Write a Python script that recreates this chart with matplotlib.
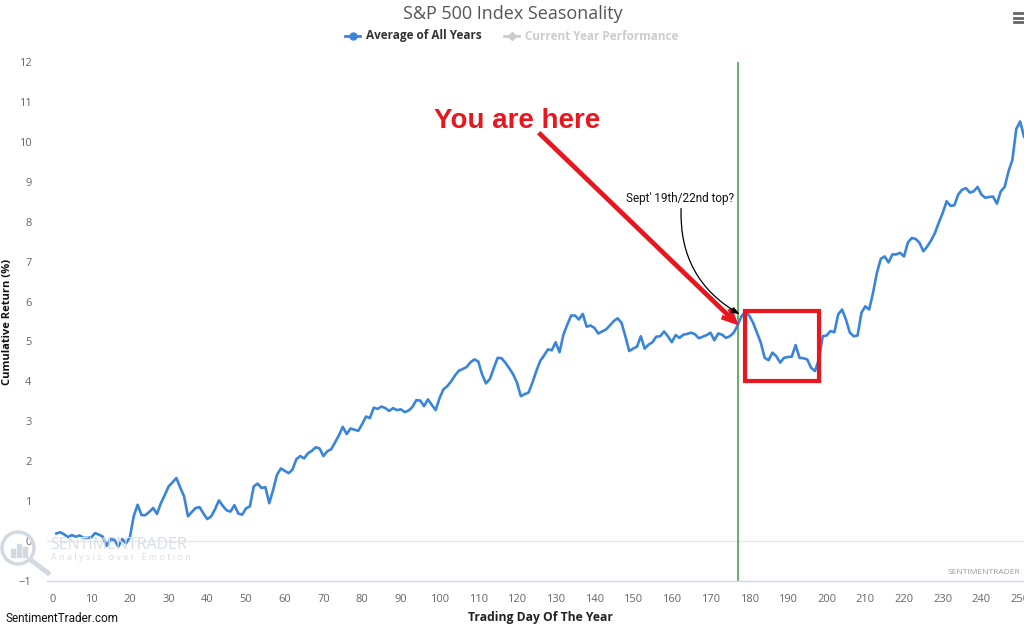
import numpy as np
import matplotlib
matplotlib.use('Agg')
import matplotlib.pyplot as plt
from matplotlib.lines import Line2D
from matplotlib.patches import Rectangle, Ellipse

# Average cumulative return per trading day
days = list(range(1, 252))
avg_return = [
    0.19, 0.22, 0.17, 0.10, 0.15, 0.11, 0.14, 0.08, 0.08, 0.09,
    0.20, 0.16, 0.11, -0.12, 0.05, 0.03, -0.14, 0.05, -0.06, 0.10,
    0.63, 0.91, 0.65, 0.65, 0.73, 0.83, 0.68, 0.95, 1.15, 1.37,
    1.47, 1.58, 1.34, 1.12, 0.62, 0.73, 0.83, 0.85, 0.69, 0.55,
    0.62, 0.80, 1.02, 0.88, 0.77, 0.74, 0.90, 0.69, 0.66, 0.82,
    0.87, 1.37, 1.44, 1.33, 1.35, 0.95, 1.28, 1.66, 1.82, 1.76,
    1.70, 1.79, 2.05, 2.13, 2.07, 2.20, 2.26, 2.35, 2.32, 2.13,
    2.25, 2.30, 2.47, 2.65, 2.86, 2.68, 2.82, 2.79, 2.76, 2.93,
    3.12, 3.08, 3.34, 3.31, 3.37, 3.33, 3.26, 3.33, 3.28, 3.30,
    3.23, 3.27, 3.36, 3.53, 3.52, 3.38, 3.55, 3.41, 3.28, 3.58,
    3.80, 3.88, 4.00, 4.15, 4.27, 4.31, 4.36, 4.48, 4.55, 4.50,
    4.17, 3.95, 4.06, 4.33, 4.59, 4.58, 4.47, 4.33, 4.18, 3.97,
    3.63, 3.68, 3.72, 3.97, 4.26, 4.51, 4.65, 4.80, 4.78, 4.98,
    4.73, 5.17, 5.42, 5.65, 5.65, 5.55, 5.69, 5.37, 5.40, 5.34,
    5.20, 5.25, 5.30, 5.40, 5.51, 5.58, 5.47, 5.13, 4.76, 4.82,
    4.87, 5.13, 4.82, 4.92, 4.98, 5.12, 5.13, 5.25, 5.13, 4.98,
    5.16, 5.09, 5.17, 5.19, 5.22, 5.18, 5.08, 5.12, 5.16, 5.22,
    5.03, 5.20, 5.17, 5.09, 5.13, 5.22, 5.40, 5.63, 5.75, 5.65,
    5.47, 5.22, 4.97, 4.59, 4.53, 4.72, 4.63, 4.47, 4.59, 4.61,
    4.62, 4.91, 4.59, 4.58, 4.55, 4.34, 4.26, 4.55, 5.13, 5.15,
    5.26, 5.23, 5.68, 5.80, 5.55, 5.22, 5.13, 5.15, 5.72, 5.88,
    5.80, 6.22, 6.72, 7.07, 7.13, 6.98, 7.18, 7.18, 7.22, 7.13,
    7.48, 7.59, 7.57, 7.47, 7.26, 7.38, 7.53, 7.72, 7.98, 8.22,
    8.51, 8.40, 8.41, 8.68, 8.80, 8.84, 8.73, 8.76, 8.87, 8.68,
    8.60, 8.62, 8.63, 8.45, 8.76, 8.87, 9.26, 9.55, 10.32, 10.51,
    10.13,
]
x_ticks = list(range(0, 251, 10))
y_ticks = list(range(-1, 13))
today = 177

BLUE = '#3a85d8'
RED = '#e8161e'
W, H = 1024, 626


def fx(px):
    return px / W


def fy(py):
    return 1 - py / H


fig = plt.figure(figsize=(10.24, 6.26), dpi=100)
ax = fig.add_axes([fx(46.7), fy(581), fx(1024 - 46.7), (581 - 62) / H])

ax.plot(days, avg_return, color=BLUE, lw=1.9, solid_joinstyle='round', zorder=3)
ax.axhline(0, color='#e6e6e6', lw=1, zorder=1)
ax.axvline(today, color='#3f9c3f', lw=1.1, zorder=2)

ax.set_xlim(-1.5, 251)
ax.set_ylim(-1, 12)
ax.set_xticks(x_ticks)
ax.set_yticks(y_ticks)
ax.tick_params(length=0, colors='#666666', labelsize=8)
ax.tick_params(axis='x', pad=9)
ax.tick_params(axis='y', pad=11)
for lab in ax.get_xticklabels() + ax.get_yticklabels():
    lab.set_fontfamily('Open Sans')
for s in ['top', 'right', 'left']:
    ax.spines[s].set_visible(False)
ax.spines['bottom'].set_color('#ccd6eb')
ax.spines['bottom'].set_linewidth(1)

# red box and arrows
ax.add_patch(Rectangle((178.8, 4.01), 198.1 - 178.8, 5.76 - 4.01, fill=False,
                       edgecolor=RED, lw=3, zorder=5, clip_on=False))
ax.annotate('', xy=(177.3, 5.4), xytext=(125.6, 10.23),
            arrowprops=dict(arrowstyle='->,head_length=0.9,head_width=0.42',
                            color=RED, lw=3.4, shrinkA=0, shrinkB=0,
                            joinstyle='miter', capstyle='butt'), zorder=6)
ax.text(120, 10.52, 'You are here', color=RED, fontsize=20, fontweight='bold',
        family='Liberation Sans', ha='center', va='center', zorder=6)
ax.text(162.1, 8.575, "Sept' 19th/22nd top?", color='#111111', fontsize=8.5,
        family='Roboto', ha='center', va='center', zorder=6)
ax.annotate('', xy=(177.6, 5.68), xytext=(162.4, 8.33),
            arrowprops=dict(arrowstyle='-|>,head_length=0.5,head_width=0.18',
                            color='black', lw=0.9, shrinkA=0, shrinkB=0,
                            connectionstyle='arc3,rad=0.3'), zorder=6)

# title and legend
fig.text(fx(513), fy(14), 'S&P 500 Index Seasonality', ha='center', va='center',
         fontsize=13, color='#555555', family='Open Sans')
fig.add_artist(Line2D([fx(345), fx(360)], [fy(36), fy(36)], color=BLUE, lw=2))
fig.add_artist(Line2D([fx(352.5)], [fy(36)], color=BLUE, marker='o', markersize=5))
fig.text(fx(366), fy(36), 'Average of All Years', ha='left', va='center',
         fontsize=8.5, fontweight='bold', color='#333333', family='Open Sans')
fig.add_artist(Line2D([fx(504), fx(519)], [fy(36), fy(36)], color='#cccccc', lw=2))
fig.add_artist(Line2D([fx(511.5)], [fy(36)], color='#cccccc', marker='D', markersize=4.5))
fig.text(fx(525), fy(36), 'Current Year Performance', ha='left', va='center',
         fontsize=8.5, fontweight='bold', color='#cccccc', family='Open Sans')

# axis titles
fig.text(fx(8), fy(322), 'Cumulative Return (%)', rotation=90, ha='center', va='center',
         fontsize=8, fontweight='bold', color='#111111', family='Open Sans')
fig.text(fx(540), fy(617), 'Trading Day Of The Year', ha='center', va='center',
         fontsize=8.7, fontweight='bold', color='#222222', family='Open Sans')
fig.text(fx(5), fy(618), 'SentimentTrader.com', ha='left', va='center',
         fontsize=8.5, color='#111111', family='Roboto')
fig.text(fx(948), fy(573), 'SENTIMENTRADER', ha='left', va='center',
         fontsize=6, color='#999999', family='Open Sans')

# watermark logo
wm = '#d3d9e2'
fig.add_artist(Ellipse((fx(18), fy(548)), 32 / W, 32 / H, fill=False, edgecolor=wm, lw=2.5))
fig.add_artist(Line2D([fx(31), fx(48)], [fy(560), fy(573)], color=wm, lw=3.5))
for bx, bh in [(11, 8), (17, 13), (23, 10)]:
    fig.add_artist(Rectangle((fx(bx), fy(557)), 4 / W, bh / H, color=wm))
fig.text(fx(50), fy(545), 'SENTIMENTRADER', ha='left', va='center', fontsize=11.5,
         color='#d8dee7', family='Open Sans')
fig.text(fx(51), fy(558), 'A n a l y s i s   o v e r   E m o t i o n', ha='left', va='center',
         fontsize=6.5, color='#d8dee7', family='Open Sans')

# menu icon
for yy in [13, 17.5, 22]:
    fig.add_artist(Line2D([fx(1014), fx(1024)], [fy(yy), fy(yy)], color='#666666', lw=2))

fig.savefig('out.png', dpi=100)
